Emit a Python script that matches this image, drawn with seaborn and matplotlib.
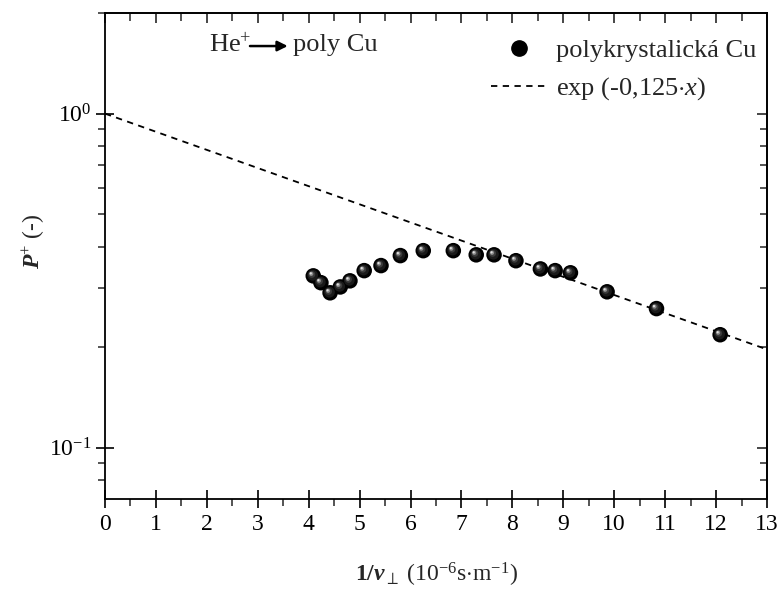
import numpy as np
import pandas as pd
import matplotlib
matplotlib.use("Agg")
import matplotlib.pyplot as plt
import matplotlib.transforms as mtransforms
from matplotlib.lines import Line2D
from matplotlib.ticker import LogLocator, MultipleLocator, NullFormatter
import seaborn as sns

# ---- data ----
inv_v = [4.09, 4.24, 4.42, 4.62, 4.81, 5.09, 5.42, 5.80, 6.25, 6.84,
         7.29, 7.64, 8.07, 8.55, 8.84, 9.14, 9.86, 10.83, 12.08]
p_plus = [0.327, 0.312, 0.291, 0.303, 0.316, 0.339, 0.351, 0.376, 0.389, 0.389,
          0.378, 0.378, 0.363, 0.343, 0.339, 0.334, 0.293, 0.261, 0.218]
fit_x = [0.0, 13.0]
fit_y = [1.0, 0.197]
x_ticks = list(range(0, 14))
series_label = "polykrystalická Cu"
fit_label = r"exp (-0,125$\cdot\mathit{x}$)"

df = pd.DataFrame({"x": inv_v, "y": p_plus})
df_fit = pd.DataFrame({"x": fit_x, "y": fit_y})

sns.set_style("ticks")
plt.rcParams["font.family"] = ["Liberation Serif", "DejaVu Serif"]
plt.rcParams["mathtext.fontset"] = "custom"
plt.rcParams["mathtext.rm"] = "Liberation Serif"
plt.rcParams["mathtext.it"] = "Liberation Serif:italic"
plt.rcParams["mathtext.bf"] = "Liberation Serif:bold"
plt.rcParams["mathtext.bfit"] = "Liberation Serif:bold:italic"
plt.rcParams["mathtext.sf"] = "Liberation Serif"

fig = plt.figure(figsize=(7.81, 5.90), dpi=100)
ax = fig.add_axes([105 / 781, 1 - 499 / 590, (767 - 105) / 781, (499 - 13) / 590])

# fit line
sns.lineplot(data=df_fit, x="x", y="y", ax=ax, color="black", lw=1.3,
             linestyle=(0, (3.5, 3.0)), legend=False, zorder=2)

# shaded spheres
layers = [(125, "#000000", 0.0, 0.0),
          (60, "#1a1a1a", -0.6, 0.6),
          (24, "#3c3c3c", -1.4, 1.4),
          (9, "#8a8a8a", -2.0, 2.0),
          (2.5, "#e0e0e0", -2.5, 2.5)]
for s, c, dx, dy in layers:
    tr = ax.transData + mtransforms.ScaledTranslation(dx / 100, dy / 100, fig.dpi_scale_trans)
    sns.scatterplot(data=df, x="x", y="y", ax=ax, s=s, color=c, edgecolor="none",
                    linewidth=0, legend=False, zorder=3, transform=tr)

ax.set_yscale("log")
ax.set_xlim(0, 13)
ax.set_ylim(0.0703, 2.0)

ax.set_xticks(x_ticks)
ax.xaxis.set_minor_locator(MultipleLocator(0.5))
ax.yaxis.set_major_locator(LogLocator(base=10))
ax.yaxis.set_minor_locator(LogLocator(base=10, subs=np.arange(2, 10)))
ax.yaxis.set_minor_formatter(NullFormatter())

for sp in ax.spines.values():
    sp.set_visible(True)
    sp.set_linewidth(1.3)
    sp.set_color("black")

ax.tick_params(axis="both", which="major", direction="inout", length=13, width=1.2,
               labelsize=17, colors="black")
ax.tick_params(axis="x", which="major", pad=4)
ax.tick_params(axis="y", which="major", pad=3)
ax.tick_params(axis="both", which="minor", direction="out", length=5, width=1.1)

# top / right mirrored ticks pointing inward
secx = ax.secondary_xaxis("top")
secx.set_xticks(x_ticks)
secx.xaxis.set_minor_locator(MultipleLocator(0.5))
secx.tick_params(which="major", direction="in", length=7, width=1.2, labeltop=False)
secx.tick_params(which="minor", direction="in", length=6, width=1.1)
secy = ax.secondary_yaxis("right")
secy.yaxis.set_major_locator(LogLocator(base=10))
secy.yaxis.set_minor_locator(LogLocator(base=10, subs=np.arange(2, 10)))
secy.yaxis.set_minor_formatter(NullFormatter())
secy.tick_params(which="major", direction="in", length=7, width=1.2, labelright=False)
secy.tick_params(which="minor", direction="in", length=5, width=1.1)
for s in (secx, secy):
    for sp in s.spines.values():
        sp.set_linewidth(1.3)

ax.set_xlabel(r"$\mathbf{1/}\mathbfit{v}_{\perp}$ (10$^{-6}$s$\cdot$m$^{-1}$)",
              fontsize=17)
ax.xaxis.set_label_coords(0.5, -0.128)
ax.set_ylabel(r"$\mathbfit{P}^{+}$ (-)", fontsize=17)
ax.yaxis.set_label_coords(-0.088, 0.53)

# annotation He+ -> poly Cu
ax.text(0.157, 0.934, r"He$^{+}$", transform=ax.transAxes, fontsize=19,
        ha="left", va="center")
ax.annotate("", xy=(0.276, 0.932), xytext=(0.219, 0.932),
            xycoords="axes fraction", textcoords="axes fraction",
            arrowprops=dict(arrowstyle="-|>", color="black", lw=1.8,
                            mutation_scale=15, shrinkA=0, shrinkB=0))
ax.text(0.284, 0.934, "poly Cu", transform=ax.transAxes, fontsize=19,
        ha="left", va="center")

handles = [Line2D([], [], marker="o", color="black", linestyle="none", markersize=11),
           Line2D([], [], color="black", lw=1.3, linestyle=(0, (3.5, 3.0)))]
ax.legend(handles, [series_label, fit_label], loc="upper right",
          bbox_to_anchor=(1.012, 0.985), frameon=False, fontsize=19,
          handlelength=2.1, handletextpad=0.35, labelspacing=0.5,
          borderaxespad=0.3)

fig.savefig("out.png", dpi=100)
